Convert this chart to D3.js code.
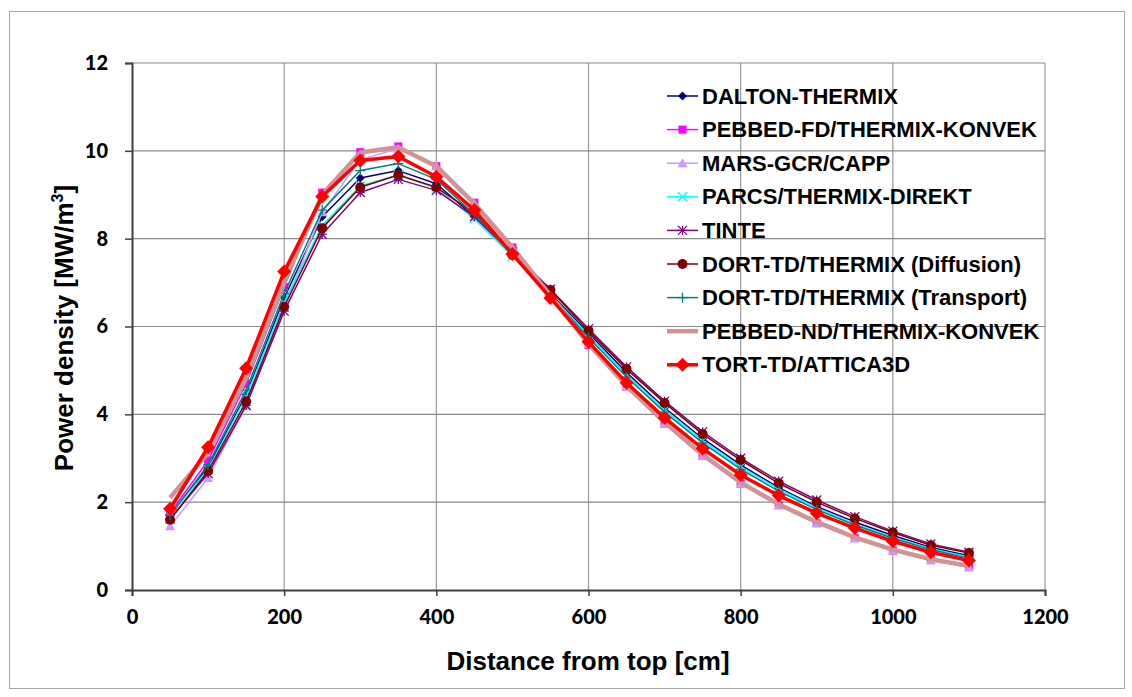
<!DOCTYPE html>
<html>
<head>
<meta charset="utf-8">
<script src="https://cdn.jsdelivr.net/npm/d3@7"></script>
<style>
body { margin: 0; background: #fff; }
svg { display: block; }
</style>
</head>
<body>
<svg id="chart"></svg>
<script>
// ---------- data ----------
const distance = [50, 100, 150, 200, 250, 300, 350, 400, 450, 500, 550, 600, 650, 700, 750, 800, 850, 900, 950, 1000, 1050, 1100];

const dalton     = [1.70, 2.80, 4.45, 6.65, 8.50, 9.38, 9.55, 9.25, 8.50, 7.65, 6.75, 5.85, 4.95, 4.15, 3.45, 2.85, 2.33, 1.90, 1.55, 1.24, 0.97, 0.78];
const pebbedFd   = [1.75, 2.95, 4.70, 6.90, 9.05, 9.97, 10.10, 9.65, 8.82, 7.80, 6.70, 5.58, 4.62, 3.78, 3.05, 2.42, 1.93, 1.52, 1.18, 0.90, 0.68, 0.52];
const marsGcr    = [1.45, 2.55, 4.20, 6.45, 8.60, 9.80, 10.05, 9.65, 8.80, 7.80, 6.70, 5.60, 4.62, 3.78, 3.05, 2.42, 1.93, 1.52, 1.18, 0.90, 0.68, 0.52];
const parcs      = [1.70, 2.75, 4.40, 6.55, 8.30, 9.20, 9.45, 9.15, 8.45, 7.60, 6.72, 5.80, 4.90, 4.10, 3.40, 2.80, 2.30, 1.87, 1.50, 1.20, 0.94, 0.75];
const tinte      = [1.62, 2.65, 4.20, 6.35, 8.10, 9.05, 9.35, 9.10, 8.50, 7.70, 6.85, 5.95, 5.08, 4.30, 3.60, 3.00, 2.48, 2.05, 1.67, 1.34, 1.05, 0.86];
const dortDiff   = [1.60, 2.71, 4.29, 6.45, 8.24, 9.17, 9.45, 9.17, 8.58, 7.63, 6.83, 5.90, 5.03, 4.26, 3.55, 2.96, 2.43, 2.00, 1.63, 1.31, 1.02, 0.84];
const dortTrans  = [1.70, 2.85, 4.55, 6.75, 8.65, 9.55, 9.71, 9.35, 8.55, 7.65, 6.70, 5.75, 4.85, 4.05, 3.35, 2.75, 2.25, 1.83, 1.48, 1.18, 0.92, 0.72];
const pebbedNd   = [2.10, 3.12, 4.83, 7.00, 9.00, 9.96, 10.08, 9.65, 8.80, 7.80, 6.70, 5.60, 4.65, 3.82, 3.08, 2.45, 1.95, 1.55, 1.20, 0.92, 0.70, 0.55];
const tortTd     = [1.85, 3.25, 5.05, 7.25, 8.96, 9.78, 9.87, 9.41, 8.65, 7.65, 6.65, 5.65, 4.72, 3.92, 3.22, 2.62, 2.15, 1.75, 1.41, 1.11, 0.86, 0.67];

const seriesNames = [
  "DALTON-THERMIX",
  "PEBBED-FD/THERMIX-KONVEK",
  "MARS-GCR/CAPP",
  "PARCS/THERMIX-DIREKT",
  "TINTE",
  "DORT-TD/THERMIX (Diffusion)",
  "DORT-TD/THERMIX (Transport)",
  "PEBBED-ND/THERMIX-KONVEK",
  "TORT-TD/ATTICA3D"
];
const seriesValues = [dalton, pebbedFd, marsGcr, parcs, tinte, dortDiff, dortTrans, pebbedNd, tortTd];

const xTicks = [0, 200, 400, 600, 800, 1000, 1200];
const yTicks = [0, 2, 4, 6, 8, 10, 12];

// ---------- styles per series ----------
const styles = [
  { color: "#000080", width: 1.5, marker: "diamond", size: 4.5 },
  { color: "#ff00ff", width: 1.5, marker: "square", size: 4 },
  { color: "#cc99ff", width: 1.5, marker: "triangle", size: 5 },
  { color: "#00ffff", width: 1.5, marker: "x", size: 4.5 },
  { color: "#800080", width: 1.5, marker: "star", size: 4.5 },
  { color: "#800000", width: 1.5, marker: "circle", size: 5 },
  { color: "#008080", width: 1.5, marker: "plus", size: 5 },
  { color: "#d09494", width: 4.5, marker: "none", size: 0 },
  { color: "#ff0000", width: 3.5, marker: "diamond", size: 7 }
];

// ---------- layout ----------
const W = 1132, H = 697;
const plot = { left: 132, top: 63, right: 1045, bottom: 590 };
const titleFont = "'Liberation Sans', Arial, sans-serif";

const svg = d3.select("#chart").attr("width", W).attr("height", H);

svg.append("rect")
  .attr("x", 9.5).attr("y", 11.5)
  .attr("width", 1115).attr("height", 677)
  .attr("fill", "#fff").attr("stroke", "#a6a6a6").attr("stroke-width", 1);

const xs = d3.scaleLinear().domain([0, 1200]).range([plot.left, plot.right]);
const ys = d3.scaleLinear().domain([0, 12]).range([plot.bottom, plot.top]);

// gridlines
const grid = svg.append("g");
grid.selectAll(".vg").data(xTicks.slice(1)).enter().append("line")
  .attr("x1", d => xs(d)).attr("x2", d => xs(d))
  .attr("y1", plot.top).attr("y2", plot.bottom)
  .attr("stroke", "#9a9a9a").attr("stroke-width", 1.2);
grid.selectAll(".hg").data(yTicks.slice(1)).enter().append("line")
  .attr("x1", plot.left).attr("x2", plot.right)
  .attr("y1", d => ys(d)).attr("y2", d => ys(d))
  .attr("stroke", "#8a8a8a").attr("stroke-width", 1.2);

// axes
const xAxis = svg.append("g")
  .attr("transform", "translate(0," + plot.bottom + ")")
  .call(d3.axisBottom(xs).tickValues(xTicks).tickFormat(d3.format("d")).tickSize(6).tickPadding(14));
const yAxis = svg.append("g")
  .attr("transform", "translate(" + plot.left + ",0)")
  .call(d3.axisLeft(ys).tickValues(yTicks).tickFormat(d3.format("d")).tickSize(7).tickPadding(17));

[xAxis, yAxis].forEach(a => {
  a.select(".domain").attr("stroke", "#404040").attr("stroke-width", 2);
  a.selectAll(".tick line").attr("stroke", "#404040").attr("stroke-width", 1.5);
  a.selectAll(".tick text")
    .attr("fill", "#000")
    .style("font-family", "Lato, 'Open Sans', sans-serif")
    .style("font-weight", "900")
    .style("font-size", "20px");
});

// axis titles
svg.append("text")
  .attr("x", 588).attr("y", 670)
  .attr("text-anchor", "middle")
  .style("font-family", titleFont)
  .style("font-weight", "bold").style("font-size", "26px")
  .text("Distance from top [cm]");

const yTitle = svg.append("text")
  .attr("transform", "translate(73,328) rotate(-90)")
  .attr("text-anchor", "middle")
  .style("font-family", titleFont)
  .style("font-weight", "bold").style("font-size", "26px");
yTitle.append("tspan").text("Power density [MW/m");
yTitle.append("tspan").attr("dy", -10).style("font-size", "16px").text("3");
yTitle.append("tspan").attr("dy", 10).text("]");

// ---------- markers ----------
function drawMarker(g, type, x, y, st) {
  if (type === "none") return;
  const s = st.size;
  if (type === "x" || type === "star" || type === "plus") {
    let segs = [];
    if (type === "x" || type === "star") segs.push([-s, -s, s, s], [-s, s, s, -s]);
    if (type === "plus" || type === "star") segs.push([-s, 0, s, 0], [0, -s, 0, s]);
    segs.forEach(q => {
      g.append("line")
        .attr("x1", x + q[0]).attr("y1", y + q[1])
        .attr("x2", x + q[2]).attr("y2", y + q[3])
        .attr("stroke", st.color).attr("stroke-width", 1.3);
    });
    return;
  }
  let pts;
  if (type === "diamond") pts = [[0, -s], [s, 0], [0, s], [-s, 0]];
  if (type === "square") pts = [[-s, -s], [s, -s], [s, s], [-s, s]];
  if (type === "triangle") pts = [[0, -s], [s, s * 0.8], [-s, s * 0.8]];
  if (type === "circle") {
    g.append("circle").attr("cx", x).attr("cy", y).attr("r", s).attr("fill", st.color);
    return;
  }
  g.append("path")
    .attr("d", "M" + pts.map(p => (x + p[0]) + "," + (y + p[1])).join("L") + "Z")
    .attr("fill", st.color);
}

const line = d3.line()
  .x((d, i) => xs(distance[i]))
  .y(d => ys(d));

seriesValues.forEach((vals, k) => {
  const st = styles[k];
  const g = svg.append("g");
  g.append("path")
    .datum(vals)
    .attr("fill", "none")
    .attr("stroke", st.color)
    .attr("stroke-width", st.width)
    .attr("stroke-linejoin", "round")
    .attr("d", line);
  vals.forEach((v, i) => drawMarker(g, st.marker, xs(distance[i]), ys(v), st));
});

// ---------- legend ----------
const legend = svg.append("g");
seriesNames.forEach((name, k) => {
  const st = styles[k];
  const y = 96 + k * 33.6;
  const g = legend.append("g");
  g.append("line")
    .attr("x1", 667).attr("x2", 698)
    .attr("y1", y).attr("y2", y)
    .attr("stroke", st.color).attr("stroke-width", st.width);
  drawMarker(g, st.marker, 682.5, y, st);
  g.append("text")
    .attr("x", 702).attr("y", y + 7.5)
    .style("font-family", titleFont)
    .style("font-weight", "bold").style("font-size", "22px")
    .text(name);
});
</script>
</body>
</html>
